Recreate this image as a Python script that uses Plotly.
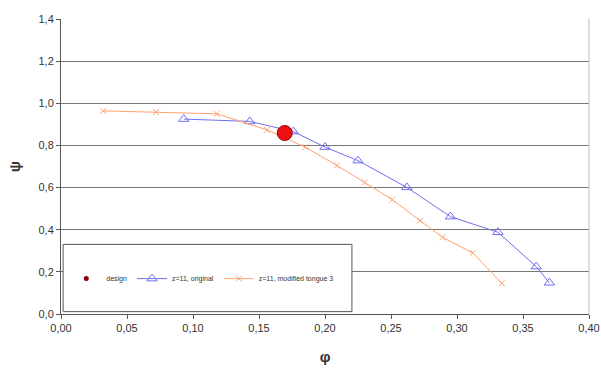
import plotly.graph_objects as go

design_x = [0.1695]
design_y = [0.859]

orig_x = [0.093, 0.143, 0.176, 0.200, 0.225, 0.262, 0.295, 0.331, 0.360, 0.370]
orig_y = [0.925, 0.914, 0.866, 0.792, 0.728, 0.601, 0.462, 0.388, 0.225, 0.148]

mod_x = [0.032, 0.072, 0.118, 0.156, 0.185, 0.209, 0.230, 0.251, 0.272, 0.289, 0.312, 0.334]
mod_y = [0.964, 0.958, 0.950, 0.874, 0.792, 0.705, 0.625, 0.543, 0.443, 0.364, 0.290, 0.145]

x_ticks = [0.00, 0.05, 0.10, 0.15, 0.20, 0.25, 0.30, 0.35, 0.40]
y_ticks = [0.0, 0.2, 0.4, 0.6, 0.8, 1.0, 1.2, 1.4]

BLUE = "#6f6ff0"
ORANGE = "#ffa070"

fig = go.Figure()
# legend-only entry for design (small dot as in the reference legend)
fig.add_trace(go.Scatter(x=[None], y=[None], mode="markers", name="design", legendrank=1,
                         marker=dict(symbol="circle", size=5, color="#8b0000")))
fig.add_trace(go.Scatter(x=orig_x, y=orig_y, mode="lines+markers", name="z=11, original", legendrank=2,
                         line=dict(color=BLUE, width=1),
                         marker=dict(symbol="triangle-up-open", size=9, color=BLUE, line=dict(width=1))))
fig.add_trace(go.Scatter(x=mod_x, y=mod_y, mode="lines+markers", name="z=11, modified tongue 3", legendrank=3,
                         line=dict(color=ORANGE, width=1),
                         marker=dict(symbol="x-thin-open", size=6, color=ORANGE, line=dict(width=1, color=ORANGE))))
fig.add_trace(go.Scatter(x=design_x, y=design_y, mode="markers", name="design", showlegend=False,
                         marker=dict(symbol="circle", size=15, color="#ee1111", line=dict(width=1, color="#990000"))))

# legend box
fig.add_shape(type="rect", xref="paper", yref="paper", x0=0.004, x1=0.551, y0=0.008, y1=0.236,
              line=dict(color="#555555", width=1), fillcolor="white", layer="above")
fig.add_shape(type="line", xref="paper", yref="paper", x0=1, x1=1, y0=0, y1=1,
              line=dict(color="#bbbbbb", width=1))

fig.update_layout(
    width=601, height=369,
    margin=dict(l=61, r=12, t=19, b=54.5),
    paper_bgcolor="white", plot_bgcolor="white",
    separators=", ",
    font=dict(family="Liberation Sans, Arial", color="#333333", size=11),
    showlegend=True,
    legend=dict(orientation="h", x=0.01, y=0.12, xanchor="left", yanchor="middle",
                traceorder="normal", font=dict(size=7, color="#333333"),
                bgcolor="rgba(0,0,0,0)", itemwidth=30),
    xaxis=dict(range=[0, 0.40], tickvals=x_ticks, tickformat=".2f", showgrid=False, automargin=False,
               showline=True, linecolor="#555555", linewidth=1, ticks="outside", ticklen=4,
               tickcolor="#555555", zeroline=False,
               title=dict(text="<b>φ</b>", font=dict(size=15, color="#333333"), standoff=18)),
    yaxis=dict(range=[0, 1.4], tickvals=y_ticks, tickformat=".1f", showgrid=True, automargin=False,
               gridcolor="#777777", gridwidth=1, showline=True, linecolor="#555555", linewidth=1,
               ticks="outside", ticklen=4, tickcolor="#555555", zeroline=False,
               title=dict(text="<b>ψ</b>", font=dict(size=15, color="#333333"), standoff=14)),
)

fig.write_html("out.html")
